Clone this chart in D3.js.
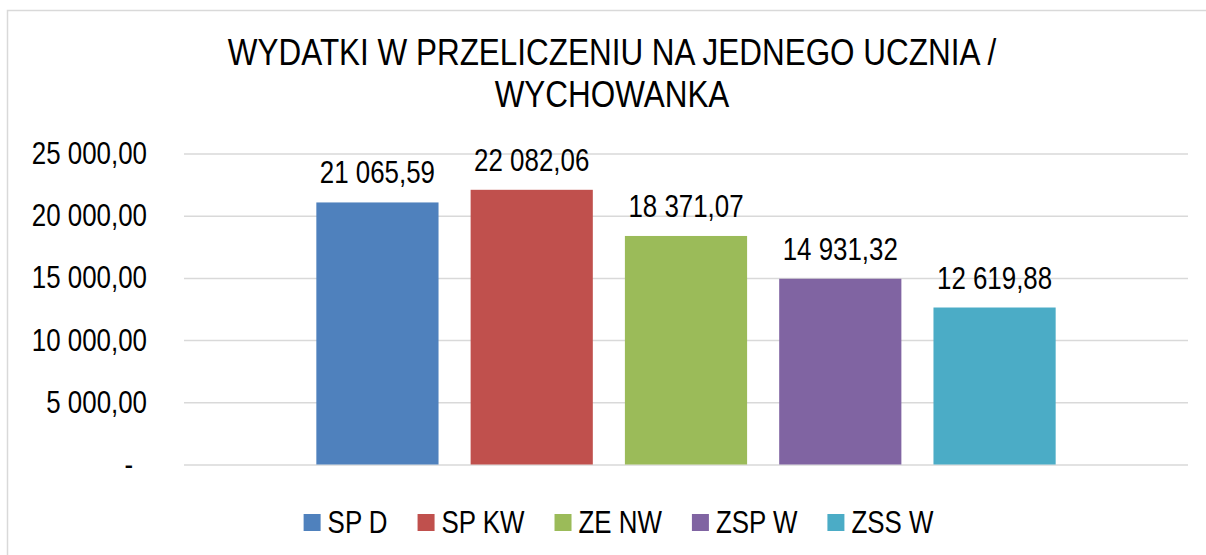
<!DOCTYPE html>
<meta charset="utf-8">
<body style="margin:0;background:#fff">
<script src="https://cdn.jsdelivr.net/npm/d3@7/dist/d3.min.js"></script>
<style>
svg { display:block; }
text { font-family: "Liberation Sans", Arial, sans-serif; fill:#000; }
</style>
<svg id="chart" width="1206" height="555"></svg>
<script>
// data
var titleLines = ["WYDATKI W PRZELICZENIU NA JEDNEGO UCZNIA /", "WYCHOWANKA"];
var categories = [""];
var series = ["SP D", "SP KW", "ZE NW", "ZSP W", "ZSS W"];
var values = [21065.59, 22082.06, 18371.07, 14931.32, 12619.88];
var yTicks = [0, 5000, 10000, 15000, 20000, 25000];
var colors = ["#4F81BD", "#C0504D", "#9BBB59", "#8064A2", "#4BACC6"];

var pl = d3.formatLocale({decimal: ",", thousands: " ", grouping: [3], currency: ["", ""]});
var fmt = pl.format(",.2f");

// no Arial Narrow here -> squeeze Liberation Sans
var narrow = function(sel, k){
  k = k || 0.835;
  sel.each(function(){
    var w = this.getComputedTextLength();
    d3.select(this).attr("textLength", w * k).attr("lengthAdjust", "spacingAndGlyphs");
  });
};

var svg = d3.select("#chart");

// chart area border (runs off right/bottom like in the screenshot)
svg.append("rect")
  .attr("x", 7.5).attr("y", 10.5)
  .attr("width", 1210).attr("height", 560)
  .attr("fill", "#fff").attr("stroke", "#d9d9d9").attr("stroke-width", 1.5);

var pLeft = 184, pRight = 1188, pTop = 153.5, pBottom = 464.5;

var y = d3.scaleLinear().domain([0, 25000]).range([pBottom, pTop]);
var x0 = d3.scaleBand().domain(categories).range([pLeft, pRight]).paddingOuter(0.179);
var x1 = d3.scaleBand().domain(series).range([0, x0.bandwidth()]).paddingInner(0.208);

// title
svg.append("g").selectAll("text").data(titleLines).enter().append("text")
  .attr("x", 612).attr("y", function(d, i){ return 65 + i * 42; })
  .attr("text-anchor", "middle")
  .style("font-size", "37px")
  .text(function(d){ return d; })
  .call(narrow, 0.85);

// y axis + grid
var yAxis = d3.axisLeft(y)
  .tickValues(yTicks)
  .tickSizeInner(-(pRight - pLeft))
  .tickSizeOuter(0)
  .tickPadding(37)
  .tickFormat(function(d){ return d === 0 ? "-" : fmt(d); });

var ag = svg.append("g")
  .attr("transform", "translate(" + pLeft + ",0)")
  .call(yAxis);
ag.attr("font-family", null).attr("font-size", null);
ag.select(".domain").remove();
ag.selectAll(".tick line").attr("stroke", "#d9d9d9").attr("stroke-width", 1.5);
ag.selectAll(".tick text")
  .attr("fill", "#000")
  .style("font-size", "31px")
  .attr("x", function(d){ return d === 0 ? -51 : -37; })
  .call(narrow);

// bars
var g = svg.append("g").attr("transform", "translate(" + x0("") + ",0)");
g.selectAll("rect.bar").data(series).enter().append("rect")
  .attr("class", "bar")
  .attr("x", function(d){ return x1(d); })
  .attr("width", x1.bandwidth())
  .attr("y", function(d, i){ return y(values[i]); })
  .attr("height", function(d, i){ return y(0) - y(values[i]); })
  .attr("fill", function(d, i){ return colors[i]; });

// value labels
g.selectAll("text.val").data(series).enter().append("text")
  .attr("class", "val")
  .attr("x", function(d){ return x1(d) + x1.bandwidth() / 2; })
  .attr("y", function(d, i){ return y(values[i]) - 19; })
  .attr("text-anchor", "middle")
  .style("font-size", "31px")
  .text(function(d, i){ return fmt(values[i]); })
  .call(narrow);

// legend
var lg = svg.append("g");
var items = lg.selectAll("g").data(series).enter().append("g");
items.append("rect")
  .attr("width", 17).attr("height", 17).attr("y", 514)
  .attr("fill", function(d, i){ return colors[i]; });
items.append("text")
  .attr("x", 24).attr("y", 533)
  .style("font-size", "31px")
  .text(function(d){ return d; })
  .call(narrow);
var lx = 0;
items.each(function(){
  var w = +d3.select(this).select("text").attr("textLength");
  d3.select(this).attr("transform", "translate(" + lx + ",0)");
  lx += 24 + w + 30;
});
lx -= 30;
lg.attr("transform", "translate(" + (618.5 - lx / 2) + ",0)");
</script>
</body>
